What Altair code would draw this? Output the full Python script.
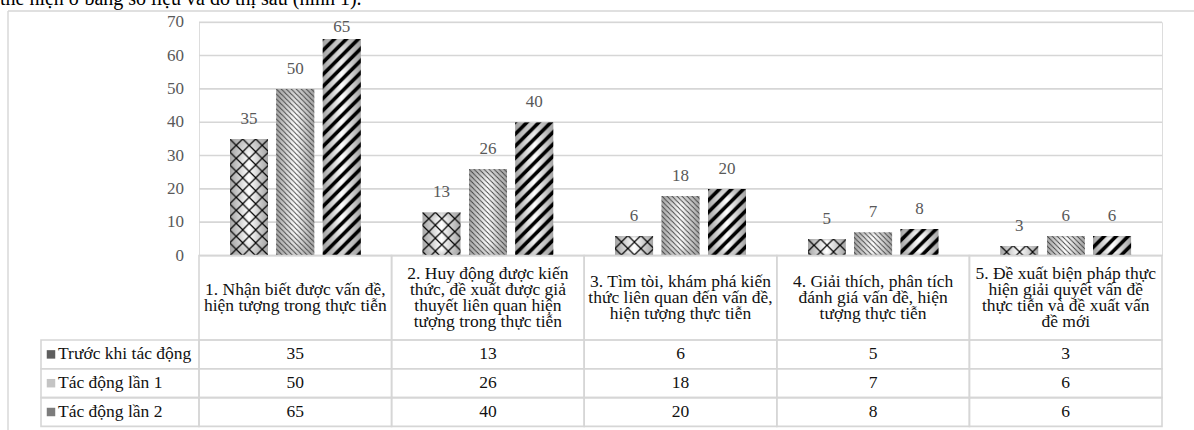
import base64
import altair as alt
import pandas as pd

# ---------------- data ----------------
categories = [
    "1. Nhận biết được vấn đề,\nhiện tượng trong thực tiễn",
    "2. Huy động được kiến\nthức, đề xuất được giả\nthuyết liên quan hiện\ntượng trong thực tiễn",
    "3. Tìm tòi, khám phá kiến\nthức liên quan đến vấn đề,\nhiện tượng thực tiễn",
    "4. Giải thích, phân tích\nđánh giá vấn đề, hiện\ntượng thực tiễn",
    "5. Đề xuất biện pháp thực\nhiện giải quyết vấn đề\nthực tiễn và đề xuất vấn\nđề mới",
]
series = ["Trước khi tác động", "Tác động lần 1", "Tác động lần 2"]
before = [35, 13, 6, 5, 3]
round1 = [50, 26, 18, 7, 6]
round2 = [65, 40, 20, 8, 6]
y_ticks = [0, 10, 20, 30, 40, 50, 60, 70]
intro_text = "thể hiện ở bảng số liệu và đồ thị sau (hình 1)."

values_by_series = [before, round1, round2]

# ---------------- layout / style ----------------
W, H = 963, 233.3
PAD_L, PAD_T = 199, 22.2
TOTAL_W, TOTAL_H = 1194, 430
FONT = "Liberation Serif"
GRID = "#d6d6d6"
LABEL_GRAY = "#595959"
FS = 17
FS_TABLE = 17.5
LH = 16

header_top = H
header_bot = 340 - PAD_T
row_h = 28.8
row_tops = [header_bot + i * row_h for i in range(3)]
header_center = 297.5 - PAD_T


def svg_uri(inner, tile):
    svg = (
        "<svg xmlns='http://www.w3.org/2000/svg' width='100%' height='100%'><defs>"
        "<linearGradient id='h' x1='0' y1='0' x2='1' y2='0'>"
        "<stop offset='0' stop-color='#a3a3a3'/><stop offset='0.5' stop-color='#ffffff'/>"
        "<stop offset='1' stop-color='#a3a3a3'/></linearGradient>"
        "<linearGradient id='v' x1='0' y1='0' x2='0' y2='1'>"
        "<stop offset='0' stop-color='#a3a3a3' stop-opacity='0.55'/>"
        "<stop offset='0.15' stop-color='#a3a3a3' stop-opacity='0'/>"
        "<stop offset='0.85' stop-color='#a3a3a3' stop-opacity='0'/>"
        "<stop offset='1' stop-color='#a3a3a3' stop-opacity='0.55'/></linearGradient>"
        f"<pattern id='p' width='{tile}' height='{tile}' patternUnits='userSpaceOnUse'>{inner}</pattern>"
        "</defs>"
        "<rect width='100%' height='100%' fill='url(#h)'/>"
        "<rect width='100%' height='100%' fill='url(#v)'/>"
        "<rect width='100%' height='100%' fill='url(#p)'/></svg>"
    )
    return "data:image/svg+xml;base64," + base64.b64encode(svg.encode("utf-8")).decode("ascii")


pattern_urls = [
    svg_uri("<path d='M0,0L13,13M13,0L0,13' stroke='#000' stroke-width='1.2' fill='none'/>", 13),
    svg_uri("<path d='M0,0L5,5M-1,4L1,6M4,-1L6,1' stroke='#3a3a3a' stroke-width='0.85' fill='none'/>", 5),
    svg_uri("<path d='M0,12L12,0M-3,3L3,-3M9,15L15,9' stroke='#000' stroke-width='3.6' fill='none'/>", 12),
]
icon_colors = ["#5e5e5e", "#c4c4c4", "#7c7c7c"]

cids = list(range(len(categories)))

bars = pd.DataFrame(
    [
        {"cid": c, "series": s, "sidx": si, "value": values_by_series[si][c], "url": pattern_urls[si]}
        for si, s in enumerate(series)
        for c in cids
    ]
)

x_enc = alt.X("cid:N", sort=cids, axis=None, scale=alt.Scale(paddingInner=0, paddingOuter=0))
xoff_enc = alt.XOffset("sidx:N", sort=[0, 1, 2],
                       scale=alt.Scale(paddingInner=0.1724, paddingOuter=0.6617))
y_scale = alt.Scale(domain=[0, 70], nice=False, zero=True)

# gridlines and value-axis labels
ticks_df = pd.DataFrame({"tick": y_ticks})
grid_layer = alt.Chart(ticks_df).mark_rule(color=GRID, strokeWidth=1.6).encode(
    y=alt.Y("tick:Q", scale=y_scale, axis=None), x=alt.value(0), x2=alt.value(W)
)
ylab_layer = alt.Chart(ticks_df).mark_text(
    align="right", baseline="middle", font=FONT, fontSize=FS, color=LABEL_GRAY
).encode(y=alt.Y("tick:Q", scale=y_scale, axis=None), x=alt.value(-15), text="tick:Q")

bar_layer = alt.Chart(bars).mark_image(aspect=False).encode(
    x=x_enc, xOffset=xoff_enc,
    y=alt.Y("value:Q", scale=y_scale, axis=None), y2=alt.datum(0), url="url:N"
)

# labels sit ~20px above each bar, kept inside the plot area (as Excel does)
label_layer = alt.Chart(bars).transform_calculate(
    ly="min(datum.value + 6, 68.5)"
).mark_text(
    baseline="middle", align="center", font=FONT, fontSize=FS, color=LABEL_GRAY
).encode(x=x_enc, xOffset=xoff_enc, y=alt.Y("ly:Q", scale=y_scale, axis=None), text="value:Q")

# ---------------- table ----------------
cells = []
for c in cids:
    cells.append({"cid": c, "y0": header_top, "y1": header_bot})
    for r in range(3):
        cells.append({"cid": c, "y0": row_tops[r], "y1": row_tops[r] + row_h})
cells = pd.DataFrame(cells)

cell_layer = alt.Chart(cells).mark_rect(
    fill="white", fillOpacity=0, stroke=GRID, strokeWidth=1.6
).encode(
    x=x_enc,
    y=alt.Y("y0:Q", scale=None, axis=None),
    y2="y1:Q",
)

row_cells = pd.DataFrame(
    {"y0": row_tops, "y1": [t + row_h for t in row_tops], "series": series,
     "yc": [t + row_h / 2 for t in row_tops]}
)
row_cell_layer = alt.Chart(row_cells).mark_rect(
    fill="white", fillOpacity=0, stroke=GRID, strokeWidth=1.6
).encode(
    x=alt.value(41 - PAD_L), x2=alt.value(0),
    y=alt.Y("y0:Q", scale=None, axis=None), y2="y1:Q",
)

icon_layer = alt.Chart(row_cells).mark_square(size=72, opacity=1).encode(
    x=alt.value(51 - PAD_L),
    y=alt.Y("yc:Q", scale=None, axis=None),
    color=alt.Color("series:N", scale=alt.Scale(domain=series, range=icon_colors), legend=None),
)

row_text_layer = alt.Chart(row_cells).mark_text(
    align="left", baseline="middle", font=FONT, fontSize=FS_TABLE, color="#111111"
).encode(
    x=alt.value(58 - PAD_L),
    y=alt.Y("yc:Q", scale=None, axis=None),
    text="series:N",
)

header_df = pd.DataFrame({"cid": cids, "label": categories})
header_df["nlines"] = [len(s.split("\n")) for s in categories]
header_df["yfirst"] = header_center - (header_df["nlines"] - 1) * LH / 2
header_layer = alt.Chart(header_df).mark_text(
    align="center", baseline="middle", font=FONT, fontSize=FS_TABLE, lineHeight=LH,
    lineBreak="\n", color="#111111"
).encode(
    x=x_enc,
    y=alt.Y("yfirst:Q", scale=None, axis=None),
    text="label:N",
)

vals = pd.DataFrame(
    [
        {"cid": c, "value": values_by_series[si][c], "yc": row_tops[si] + row_h / 2}
        for si in range(3)
        for c in cids
    ]
)
value_layer = alt.Chart(vals).mark_text(
    align="center", baseline="middle", font=FONT, fontSize=FS_TABLE, color="#111111"
).encode(
    x=x_enc,
    y=alt.Y("yc:Q", scale=None, axis=None),
    text="value:Q",
)

# ---------------- frame and intro text ----------------
one = pd.DataFrame({"k": [0]})
frame_top = alt.Chart(one).mark_rule(color=GRID, strokeWidth=1.4).encode(
    x=alt.value(8 - PAD_L), x2=alt.value(TOTAL_W - PAD_L), y=alt.value(11 - PAD_T)
)
frame_left = alt.Chart(one).mark_rule(color=GRID, strokeWidth=1.4).encode(
    x=alt.value(8 - PAD_L), y=alt.value(11 - PAD_T), y2=alt.value(TOTAL_H - PAD_T)
)
intro_layer = alt.Chart(pd.DataFrame({"t": [intro_text]})).mark_text(
    align="left", baseline="alphabetic", font=FONT, fontSize=20, color="#000000"
).encode(x=alt.value(0 - PAD_L), y=alt.value(5 - PAD_T), text="t:N")

chart = alt.layer(
    frame_top, frame_left, intro_layer,
    grid_layer, ylab_layer,
    bar_layer, label_layer,
    cell_layer, row_cell_layer, icon_layer, row_text_layer, header_layer, value_layer,
).properties(
    width=W, height=H,
    padding={"left": PAD_L, "top": PAD_T, "right": TOTAL_W - PAD_L - W,
             "bottom": TOTAL_H - PAD_T - H},
    autosize=alt.AutoSizeParams(type="none"),
).configure_view(stroke=None).configure(background="white")

chart.save("out.html", embed_options={"renderer": "svg", "actions": False})
